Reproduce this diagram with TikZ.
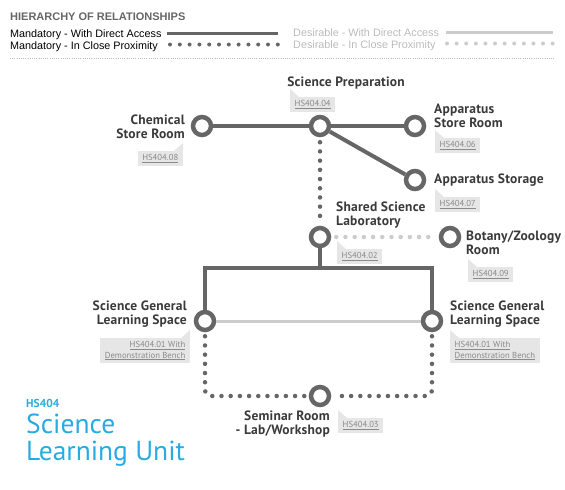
\documentclass[tikz,border=0pt]{standalone}
\usepackage{fontspec}
\setmainfont{PT Sans}
\newfontfamily\legendfont{Liberation Sans}
\newfontfamily\labelfont[LetterSpace=1.5]{PT Sans}
\usetikzlibrary{positioning}
\definecolor{linegray}{HTML}{666666}
\definecolor{lightline}{HTML}{CCCCCC}
\definecolor{labelgray}{HTML}{3A3A3A}
\definecolor{tagfill}{HTML}{E6E6E6}
\definecolor{tagtext}{HTML}{8A8A8A}
\definecolor{desgray}{HTML}{BBBBBB}
\definecolor{unitblue}{HTML}{29ABE2}

\tikzset{
	room/.style={circle, draw=linegray, fill=white, line width=4.5, minimum size=18, inner sep=0},
	lbl/.style={font=\labelfont\fontsize{13.5}{14}\selectfont\bfseries, text=labelgray, inner sep=0},
	tag/.style={fill=tagfill, text=tagtext, font=\fontsize{8.7}{10.5}\selectfont, inner xsep=4.5, inner ysep=3.2},
	mdirect/.style={draw=linegray, line width=4},
	mclose/.style={draw=linegray, line width=4.5, line cap=round, dash pattern=on 0pt off 9.2pt},
	ddirect/.style={draw=lightline, line width=3},
	dclose/.style={draw=lightline, line width=4.5, line cap=round, dash pattern=on 0pt off 9.2pt},
	legend/.style={font=\legendfont\fontsize{10.8}{12}\selectfont, inner sep=0}
}

\begin{document}
\begin{tikzpicture}
	[x=1pt,y=-1pt]
	\useasboundingbox (0,0) rectangle (565,490);
	% legend
	\node[legend, font=\legendfont\fontsize{11}{12}\selectfont\bfseries, text=linegray, anchor=base west] (lghead) at (10,20) {HIERARCHY OF RELATIONSHIPS};
	\node[legend, anchor=base west] (lgmd) at (10,37) {Mandatory - With Direct Access};
	\node[legend, anchor=base west] (lgmc) at (10,49) {Mandatory - In Close Proximity};
	\node[legend, text=desgray, anchor=base west] (lgdd) at (293,36) {Desirable - With Direct Access};
	\node[legend, text=desgray, anchor=base west] (lgdc) at (293,48) {Desirable - In Close Proximity};
	\coordinate (lgmda) at (167,33.5); \coordinate (lgmdb) at (278,33.5);
	\coordinate (lgmca) at (170,44.5); \coordinate (lgmcb) at (278,44.5);
	\coordinate (lgdda) at (446,32); \coordinate (lgddb) at (553,32);
	\coordinate (lgdca) at (447,43.5); \coordinate (lgdcb) at (553,43.5);
	\coordinate (sepa) at (10,58); \coordinate (sepb) at (555,58);
	\draw[mdirect, line width=3.2] (lgmda) -- (lgmdb);
	\draw[mclose, line width=4, dash pattern=on 0pt off 9.8pt] (lgmca) -- (lgmcb);
	\draw[ddirect] (lgdda) -- (lgddb);
	\draw[dclose, line width=4, dash pattern=on 0pt off 9.6pt] (lgdca) -- (lgdcb);
	\draw[desgray, line width=0.6, dash pattern=on 0.8pt off 1.4pt] (sepa) -- (sepb);
	
	% rooms
	\node[room] (chem) at (202,126) {};
	\node[room] (prep) at (320,126) {};
	\node[room] (appst) at (415,126) {};
	\node[room] (apps) at (415,180) {};
	\node[room] (lab) at (320,237) {};
	\node[room] (bot) at (450,237) {};
	\node[room] (sglsl) at (205,321) {};
	\node[room] (sglsr) at (432,321) {};
	\node[room] (sem) at (320,396) {};
	\coordinate (fork) at (320,268);
	
	\foreach \from/\to in {chem/prep,prep/appst,prep/apps,lab/fork}
	\draw[mdirect] (\from) -- (\to);
	\draw[mdirect] (sglsl) |- (fork) -| (sglsr);
	\draw[ddirect] (sglsl) -- (sglsr);
	\draw[mclose, shorten <=5, shorten >=3] (prep) -- (lab);
	\draw[dclose, shorten <=5, shorten >=3] (lab) -- (bot);
	\draw[mclose, rounded corners=6, shorten <=4, shorten >=3] (sglsl) |- (sem);
	\draw[mclose, rounded corners=6, shorten <=4, shorten >=3] (sglsr) |- (sem);
	
	% labels
	\node[lbl, anchor=base] (lprep) at (346,86) {Science Preparation};
	\node[lbl, anchor=east, align=right] (lchem) at (185,127) {Chemical\\Store Room};
	\node[lbl, anchor=west, align=left] (lappst) at (434,116) {Apparatus\\Store Room};
	\node[lbl, anchor=base west] (lapps) at (434,183) {Apparatus Storage};
	\node[lbl, anchor=west, align=left] (llab) at (336,215) {Shared Science\\Laboratory};
	\node[lbl, anchor=west, align=left] (lbot) at (466,243) {Botany/Zoology\\Room};
	\node[lbl, anchor=east, align=right] (lsglsl) at (187,314) {Science General\\Learning Space};
	\node[lbl, anchor=west, align=left] (lsglsr) at (450,314) {Science General\\Learning Space};
	\node[lbl, anchor=east, align=right] (lsem) at (330,424) {Seminar Room\\- Lab/Workshop};
	
	% tags
	\node[tag, anchor=north west, minimum height=13.5] (t04) at (290,97) {\underline{HS404.04}};
	\node[tag, anchor=north east, minimum height=13.5] (t08) at (183,151) {\underline{HS404.08}};
	\node[tag, anchor=north west, minimum height=13.5] (t06) at (435,138) {\underline{HS404.06}};
	\node[tag, anchor=north west, minimum height=13.5] (t07) at (435,197) {\underline{HS404.07}};
	\node[tag, anchor=north west, minimum height=13.5] (t02) at (337,249) {\underline{HS404.02}};
	\node[tag, anchor=north west, minimum height=13.5] (t09) at (468,267) {\underline{HS404.09}};
	\node[tag, anchor=north east, align=right] (t01l) at (190,338) {\underline{HS404.01 With}\\\underline{Demonstration Bench}};
	\node[tag, anchor=north west, align=left] (t01r) at (450,338) {\underline{HS404.01 With}\\\underline{Demonstration Bench}};
	\node[tag, anchor=north west, minimum height=13.5] (t03) at (338,418) {\underline{HS404.03}};
	\foreach \t in {t04,t06,t07,t02,t09,t01r,t03}
	\fill[tagfill] (\t.north west) -- ++(0,-8) -- ++(9,8) -- cycle;
	\foreach \t in {t08,t01l}
	\fill[tagfill] (\t.north east) -- ++(0,-8) -- ++(-9,8) -- cycle;
	
	% unit title
	\node[inner sep=0, anchor=base west, text=unitblue, font=\fontsize{11.5}{12}\selectfont\bfseries] (ucode) at (26,407) {HS404};
	\node[inner sep=0, anchor=base west, text=unitblue, font=\fontsize{27.5}{27}\selectfont] (utitlea) at (26,433) {Science};
	\node[inner sep=0, anchor=base west, text=unitblue, font=\fontsize{27.5}{27}\selectfont] (utitleb) at (26,460) {Learning Unit};
\end{tikzpicture}
\end{document}
